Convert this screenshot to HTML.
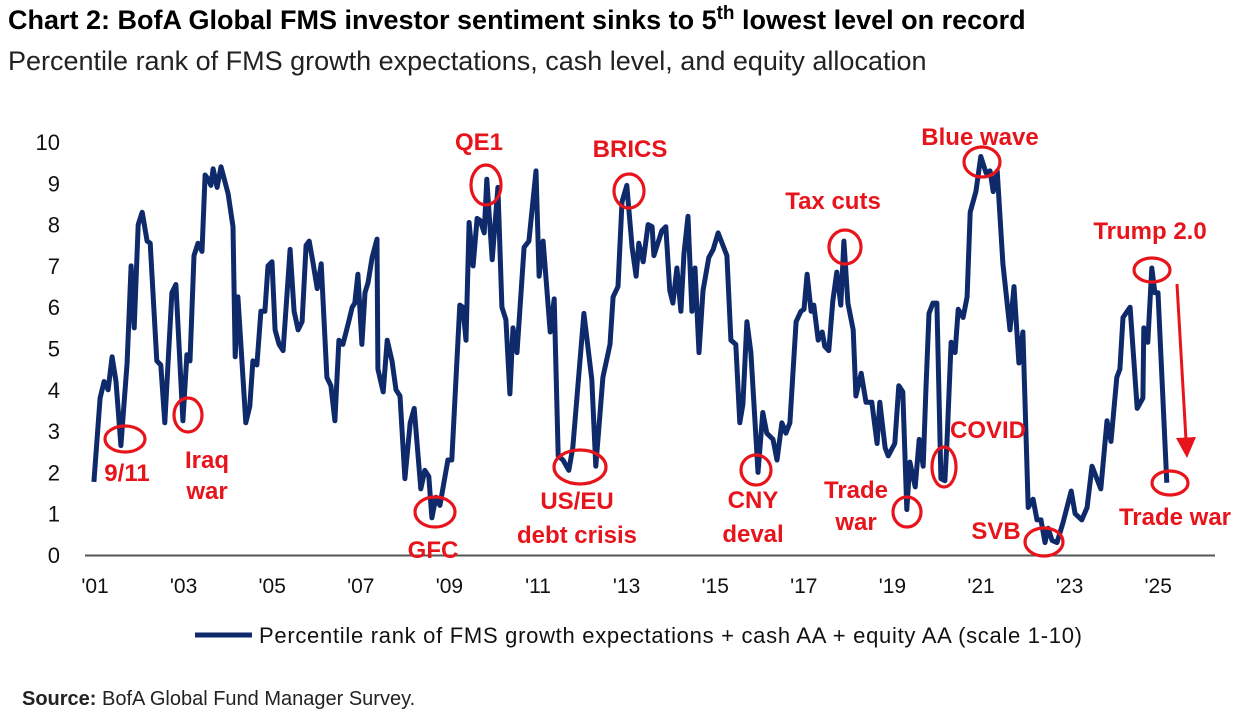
<!DOCTYPE html>
<html><head><meta charset="utf-8">
<style>
body{margin:0;background:#fff;width:1250px;height:722px;overflow:hidden;font-family:"Liberation Sans",sans-serif;}
#title{position:absolute;left:8px;top:3px;font-family:"Liberation Sans Narrow","Liberation Sans",sans-serif;font-weight:bold;font-size:27px;color:#000;white-space:nowrap;}
#title sup{font-size:19px;}
#subtitle{position:absolute;left:8px;top:46px;font-family:"Liberation Sans Narrow","Liberation Sans",sans-serif;font-size:27px;color:#222;white-space:nowrap;}
#source{position:absolute;left:22px;top:688px;font-family:"Liberation Sans Narrow","Liberation Sans",sans-serif;font-size:20px;color:#222;}
svg{position:absolute;left:0;top:0;}
</style></head><body>
<div id="title">Chart 2: BofA Global FMS investor sentiment sinks to 5<sup>th</sup> lowest level on record</div>
<div id="subtitle">Percentile rank of FMS growth expectations, cash level, and equity allocation</div>
<div id="source"><b>Source:</b> BofA Global Fund Manager Survey.</div>
<svg id="chart" width="1250" height="722"></svg>
<script>
const yearsSince2001=[-0.07,0.07,0.16,0.25,0.34,0.43,0.54,0.68,0.77,0.84,0.93,1.02,1.13,1.20,1.35,1.44,1.53,1.69,1.78,1.94,2.03,2.10,2.19,2.28,2.37,2.44,2.51,2.57,2.62,2.71,2.80,2.96,3.07,3.12,3.18,3.36,3.45,3.52,3.61,3.70,3.79,3.86,3.95,4.02,4.11,4.20,4.36,4.45,4.54,4.63,4.72,4.79,4.88,4.97,5.06,5.19,5.28,5.37,5.46,5.55,5.67,5.76,5.82,5.89,5.98,6.05,6.12,6.21,6.32,6.34,6.46,6.55,6.66,6.75,6.84,6.95,7.07,7.16,7.31,7.40,7.49,7.56,7.65,7.74,7.92,8.01,8.19,8.26,8.33,8.40,8.49,8.58,8.65,8.74,8.80,8.92,9.05,9.14,9.23,9.32,9.39,9.48,9.64,9.75,9.91,9.98,10.07,10.23,10.32,10.41,10.52,10.65,10.74,10.99,11.17,11.26,11.42,11.58,11.65,11.76,11.85,11.96,12.08,12.17,12.23,12.33,12.44,12.53,12.57,12.75,12.84,12.93,13.00,13.09,13.18,13.25,13.34,13.43,13.50,13.59,13.68,13.81,13.91,14.02,14.22,14.31,14.42,14.51,14.58,14.67,14.76,14.92,15.03,15.12,15.26,15.35,15.46,15.55,15.64,15.78,15.89,15.96,16.03,16.12,16.18,16.28,16.37,16.43,16.52,16.61,16.70,16.79,16.86,16.95,17.07,17.13,17.25,17.36,17.49,17.61,17.67,17.79,17.86,18.01,18.10,18.19,18.28,18.35,18.47,18.56,18.65,18.71,18.78,18.87,18.96,19.05,19.14,19.19,19.28,19.37,19.44,19.55,19.64,19.71,19.84,19.95,20.07,20.16,20.23,20.32,20.45,20.61,20.70,20.81,20.90,21.02,21.13,21.22,21.31,21.40,21.47,21.56,21.67,21.81,21.99,22.08,22.23,22.35,22.46,22.55,22.66,22.80,22.89,23.02,23.09,23.16,23.32,23.48,23.61,23.63,23.72,23.81,23.88,23.95,24.15];
const sentiment=[1.77,3.8,4.2,4.0,4.8,4.2,2.65,4.65,7.0,5.5,8.0,8.3,7.6,7.55,4.7,4.6,3.2,6.35,6.55,3.25,4.85,4.7,7.25,7.55,7.35,9.2,9.1,8.95,9.35,8.9,9.4,8.75,7.95,4.8,6.25,3.2,3.6,4.7,4.6,5.9,5.9,7.0,7.1,5.45,5.1,4.95,7.4,5.9,5.45,5.65,7.5,7.6,7.05,6.45,7.05,4.3,4.1,3.25,5.2,5.1,5.6,6.0,6.1,6.8,5.1,6.35,6.6,7.2,7.65,4.5,3.95,5.2,4.7,4.0,3.85,1.85,3.2,3.55,1.6,2.05,1.9,0.9,1.4,1.2,2.3,2.3,6.05,6.0,5.2,8.05,7.0,8.15,8.1,7.8,9.1,7.15,8.9,6.0,5.7,3.9,5.5,4.9,7.45,7.6,9.3,6.75,7.6,5.4,6.2,2.4,2.3,2.05,2.6,5.85,4.25,2.15,4.3,5.1,6.25,6.5,8.55,8.95,7.45,6.75,7.55,7.1,8.0,7.95,7.25,7.85,7.95,6.4,6.1,6.95,5.9,7.3,8.2,5.9,6.95,4.9,6.4,7.2,7.4,7.8,7.25,5.2,5.1,3.2,3.65,5.65,4.9,2.0,3.45,2.95,2.8,2.3,3.2,2.95,3.2,5.65,5.9,5.95,6.8,5.9,6.05,5.2,5.4,5.05,4.95,6.15,6.85,6.05,7.6,6.1,5.45,3.85,4.4,3.7,3.7,2.7,3.7,2.6,2.4,2.7,4.1,3.95,1.1,2.25,1.65,2.8,2.15,4.0,5.85,6.1,6.1,1.85,1.8,2.8,5.15,4.9,5.95,5.75,6.25,8.3,8.8,9.65,9.25,9.3,8.8,9.3,7.05,5.45,6.5,4.65,5.4,1.15,1.35,0.85,0.85,0.3,0.65,0.35,0.3,0.8,1.55,1.0,0.85,1.15,2.15,1.9,1.6,3.25,2.75,4.3,4.5,5.75,6.0,3.55,3.8,5.5,5.15,6.95,6.35,6.35,1.75];
const yTicks=[0,1,2,3,4,5,6,7,8,9,10];
const xTickYears=[2001,2003,2005,2007,2009,2011,2013,2015,2017,2019,2021,2023,2025];
const xTickLabels=["'01","'03","'05","'07","'09","'11","'13","'15","'17","'19","'21","'23","'25"];

const NS="http://www.w3.org/2000/svg";
const svg=document.getElementById('chart');
const X=yr=>97+(yr-2001)*44.3;
const Y=v=>555-v*41.3;
function mk(tag,attrs,parent){const e=document.createElementNS(NS,tag);for(const k in attrs)e.setAttribute(k,attrs[k]);(parent||svg).appendChild(e);return e;}

const ax=mk('line',{x1:85,y1:555.5,x2:1215,y2:555.5,stroke:'#555',"stroke-width":2});


yTicks.forEach(t=>{
  const tx=mk('text',{x:60,y:Y(t)+8,"text-anchor":"end","font-size":22,fill:'#111'});
  tx.textContent=t;
  
  
});
xTickYears.forEach((yr,i)=>{
  const tx=mk('text',{x:X(yr)-2,y:593,"text-anchor":"middle","font-size":21,fill:'#111'});
  tx.textContent=xTickLabels[i];
  
  
});
const pts=sentiment.map((v,i)=>X(2001+yearsSince2001[i]).toFixed(1)+','+Y(v).toFixed(1)).join(' ');
const line=mk('polyline',{points:pts,fill:'none',stroke:'#0f2a6b',"stroke-width":5,"stroke-linejoin":"round"});



const ellipses=[[125,439,20,13],[188,415,14,17],[435,512,20,15],[486,185,15,20],[580,467,26,17],[629,191,15,17],[756,470,15,15],[845,247,16,17],[907,512,14,15],[944,467,12,20],[982,162,18,15],[1044,542,19,14],[1152,270,18,12],[1170,483,18,12]];
ellipses.forEach(e=>{
  const el=mk('ellipse',{cx:e[0],cy:e[1],rx:e[2],ry:e[3],fill:'none',stroke:'#e8141c',"stroke-width":3.2});
  
  
});
const labels=[["9/11",127,481],["Iraq",207,468],["war",207,499],["GFC",433,558],["QE1",479,150],["US/EU",577,509],["debt crisis",577,543],["BRICS",630,157],["CNY",753,508],["deval",753,542],["Tax cuts",833,209],["Trade",856,498],["war",856,530],["COVID",988,438],["Blue wave",980,145],["SVB",996,539],["Trump 2.0",1150,239],["Trade war",1175,525]];
labels.forEach(l=>{
  const t=mk('text',{x:l[1],y:l[2],"text-anchor":"middle","font-size":24,"font-weight":"bold",fill:'#e8141c',"font-family":"Liberation Sans Narrow, Liberation Sans, sans-serif"});
  t.textContent=l[0];
  
  
});
const arr=mk('line',{x1:1177,y1:284,x2:1186,y2:440,stroke:'#e8141c',"stroke-width":3});


const head=mk('polygon',{points:"1176,438 1196,437 1187,458",fill:'#e8141c'});



const lg=mk('line',{x1:195,y1:635,x2:252,y2:635,stroke:'#0f2a6b',"stroke-width":5});


const lt=mk('text',{x:259,y:643,"font-size":22,fill:'#111',"font-family":"Liberation Sans Narrow, Liberation Sans, sans-serif",textLength:823});
lt.textContent="Percentile rank of FMS growth expectations + cash AA + equity AA (scale 1-10)";


</script>
</body></html>
